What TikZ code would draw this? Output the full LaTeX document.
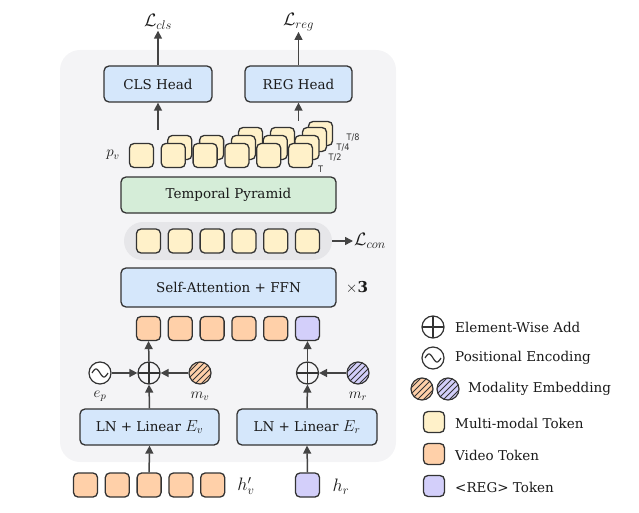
\RequirePackage{fix-cm}
\documentclass[tikz,border=0pt]{standalone}
\usepackage{fontspec}
\setmainfont{DejaVu Serif}
\newfontfamily\labsans{DejaVu Sans Condensed}
\usetikzlibrary{arrows.meta}
\definecolor{bord}{HTML}{333333}
\definecolor{arrc}{HTML}{444444}
\definecolor{panelc}{HTML}{F4F4F6}
\definecolor{pillc}{HTML}{E6E6E9}
\definecolor{mmc}{HTML}{FFF1C9}
\definecolor{vidc}{HTML}{FFD0A9}
\definecolor{regc}{HTML}{D3CFFA}
\definecolor{bluec}{HTML}{D5E7FB}
\definecolor{greenc}{HTML}{D5EDD8}
\definecolor{txtc}{HTML}{1A1A1A}
\tikzset{
  fs/.style={font=\fontsize{13.5}{16}\selectfont, text=txtc},
  box/.style={draw=bord, line width=1.3pt, rounded corners=5pt, minimum height=36pt, inner sep=0pt, fs},
  tok/.style={draw=bord, line width=1.3pt, rounded corners=4.5pt, minimum size=24pt, inner sep=0pt},
  mm/.style={tok, fill=mmc},
  vid/.style={tok, fill=vidc},
  rg/.style={tok, fill=regc},
  arr/.style={draw=arrc, line width=1.5pt, -{Triangle[length=8pt,width=8pt]}},
  addc/.style={circle, draw=bord, line width=1.2pt, minimum size=22pt, inner sep=0pt,
    path picture={\draw[bord, line width=1.2pt] (path picture bounding box.north) -- (path picture bounding box.south)
      (path picture bounding box.west) -- (path picture bounding box.east);}},
  pec/.style={circle, draw=bord, line width=1.2pt, fill=white, minimum size=22pt, inner sep=0pt,
    path picture={\draw[bord, line width=1.2pt, shift={(path picture bounding box.center)}]
      plot[domain=-1:1, samples=40, smooth] ({\x*8},{4*sin(\x*180)});}},
  hat/.style={circle, draw=bord, line width=1.2pt, fill=#1, minimum size=22pt, inner sep=0pt,
    path picture={\begin{scope}[shift={(path picture bounding box.center)}]
      \foreach \k in {-18,-12,...,18} \draw[bord, line width=0.9pt] (\k-13,13) -- (\k+13,-13);
      \end{scope}}},
  lab/.style={fs, inner sep=1pt},
  mlab/.style={font=\fontsize{18}{20}\selectfont, text=txtc, inner sep=1pt},
  slab/.style={font=\fontsize{15}{17}\selectfont, text=txtc, inner sep=1pt},
  tlab/.style={font=\labsans\fontsize{9}{10}\selectfont, text=bord, inner sep=0pt},
}
\begin{document}
\begin{tikzpicture}[x=1pt,y=-1pt]
\useasboundingbox (0,0) rectangle (639,513);
% panel
\fill[panelc, rounded corners=20pt] (60,50) rectangle (396,462);

% heads
\node[box, fill=bluec, minimum width=108pt] (cls) at (158,84) {CLS Head};
\node[box, fill=bluec, minimum width=107pt] (reg) at (298.5,84) {REG Head};
\node[mlab] (lcls) at (158,22) {$\mathcal{L}_{cls}$};
\node[mlab] (lreg) at (298.5,22) {$\mathcal{L}_{reg}$};
\draw[arr] (cls.north) -- (lcls.south);
\draw[arr] (reg.north) -- (lreg.south);

% pyramid (back to front)
\node[mm] (p8) at (320.5,133.5) {};
\foreach \i/\x in {0/250.5,1/282.5,2/314.5} \node[mm] (pq\i) at (\x,139.5) {};
\foreach \i in {0,...,4} \node[mm] (ph\i) at ({179.8+31.8*\i},147.5) {};
\foreach \i in {0,...,5} \node[mm] (pt\i) at ({141.5+31.8*\i},155.5) {};
\node[slab] (pv) at (113,155) {$p_v$};
\node[tlab] (lt) at (320.5,169) {T};
\node[tlab] (lt2) at (335,158) {T/2};
\node[tlab] (lt4) at (343,148) {T/4};
\node[tlab] (lt8) at (353,138) {T/8};
\coordinate (clsin) at (158,130);
\coordinate (regin) at (298.5,121);
\draw[arr] (clsin) -- (cls.south);
\draw[arr] (regin) -- (reg.south);

% temporal pyramid
\node[box, fill=greenc, minimum width=215pt] (tp) at (228.5,195) {Temporal Pyramid};

% pill
\node[fill=pillc, rounded corners=19pt, minimum width=208pt, minimum height=38pt, inner sep=0pt] (pill) at (228,241) {};
\foreach \i in {0,...,5} \node[mm] (c\i) at ({148.5+31.8*\i},241) {};
\node[mlab, anchor=west] (lcon) at (353,241) {$\mathcal{L}_{con}$};
\draw[arr] (pill.east) -- (lcon.west);

% self attention
\node[box, fill=bluec, minimum width=215pt, minimum height=39pt] (sa) at (228.5,287.5) {Self-Attention + FFN};
\node[slab] (x3) at (357,288) {$\times\mathbf{3}$};

% token row
\foreach \i in {0,...,4} \node[vid] (v\i) at ({148.5+31.8*\i},328.5) {};
\node[rg] (r0) at (307.5,328.5) {};

% embeddings
\node[addc] (addv) at (149,373) {};
\node[pec] (pe) at (100,373) {};
\node[hat=vidc] (mv) at (200,373) {};
\node[addc] (addr) at (307.5,373) {};
\node[hat=regc] (mr) at (358,373) {};
\node[slab] (lep) at (100,396) {$e_p$};
\node[slab] (lmv) at (200,396) {$m_v$};
\node[slab] (lmr) at (358,396) {$m_r$};

% LN boxes
\node[box, fill=bluec, minimum width=139pt] (lnv) at (149.5,427) {LN + Linear {\fontsize{16}{18}\selectfont$E_v$}};
\node[box, fill=bluec, minimum width=140pt] (lnr) at (307,427) {LN + Linear {\fontsize{16}{18}\selectfont$E_r$}};

% bottom tokens
\foreach \i in {0,...,4} \node[vid] (b\i) at ({85.5+31.8*\i},485) {};
\node[rg] (br) at (307.5,485) {};
\node[mlab] (lhv) at (246,486) {$h'_v$};
\node[mlab] (lhr) at (341,487) {$h_r$};

% arrows
\draw[arr] (pe.east) -- (addv.west);
\draw[arr] (mv.west) -- (addv.east);
\draw[arr] (lnv.north) -- (addv.south);
\draw[arr] (addv.north) -- (v0.south);
\draw[arr] (mr.west) -- (addr.east);
\draw[arr] (lnr.north) -- (addr.south);
\draw[arr] (addr.north) -- (r0.south);
\draw[arr] (b2.north) -- (lnv.south);
\draw[arr] (br.north) -- (lnr.south);

% legend
\node[addc] (gadd) at (433,327) {};
\node[lab, anchor=west] (tadd) at (454,327) {Element-Wise Add};
\node[pec] (gpe) at (433,358) {};
\node[lab, anchor=west] (tpe) at (454,358) {Positional Encoding};
\node[hat=vidc] (gm1) at (422,389) {};
\node[hat=regc] (gm2) at (448,389) {};
\node[lab, anchor=west] (tm) at (467,389) {Modality Embedding};
\node[mm, minimum size=21pt] (gmm) at (434,422) {};
\node[lab, anchor=west] (tmm) at (454,423) {Multi-modal Token};
\node[vid, minimum size=21pt] (gvid) at (434,454) {};
\node[lab, anchor=west] (tvid) at (454,455) {Video Token};
\node[rg, minimum size=21pt] (greg) at (434,486) {};
\node[lab, anchor=west] (treg) at (454,487) {<REG> Token};
\end{tikzpicture}
\end{document}
